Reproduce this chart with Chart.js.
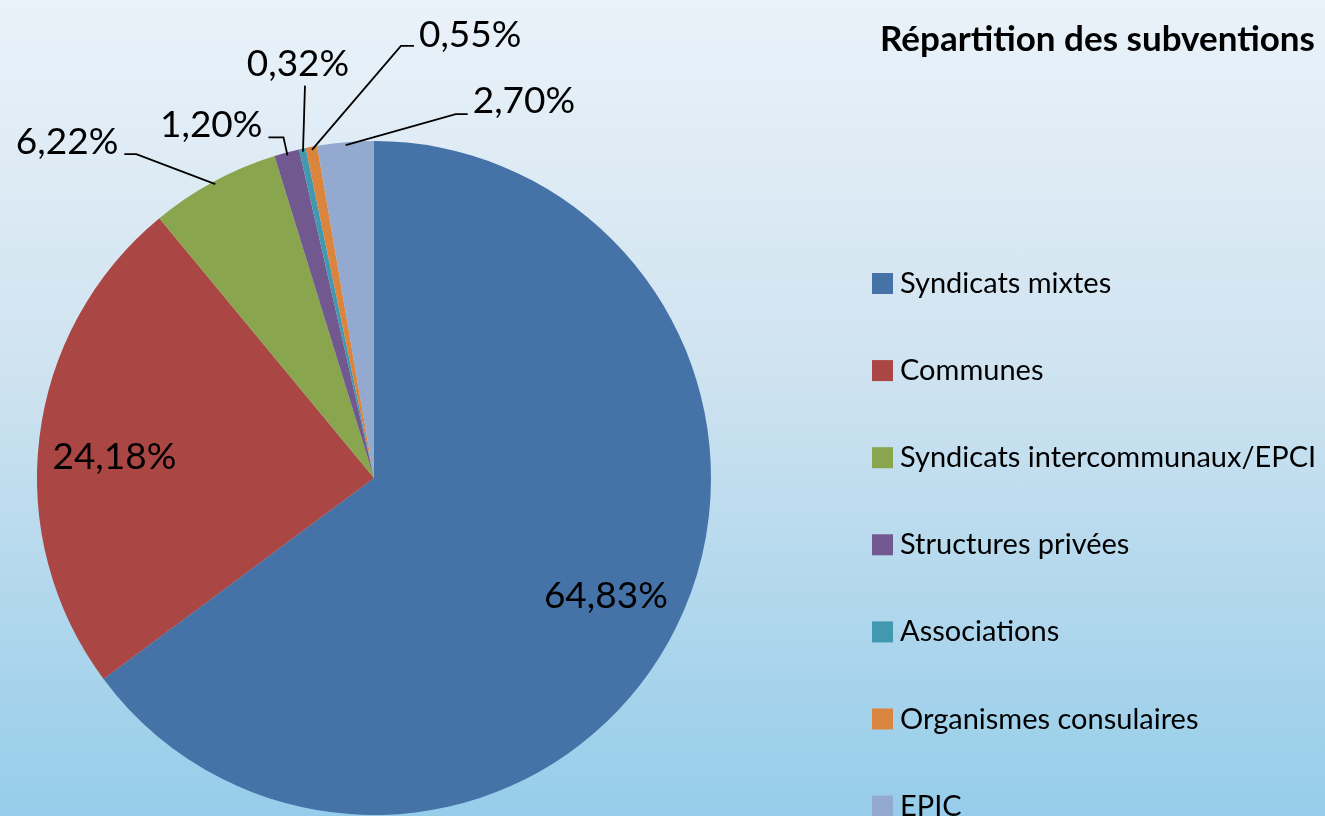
<!DOCTYPE html>
<html>
<head>
<meta charset="utf-8">
<script src="https://cdn.jsdelivr.net/npm/chart.js@4.4.0/dist/chart.umd.min.js"></script>
<style>
    html, body {
        margin: 0;
        padding: 0;
        width: 1325px;
        height: 816px;
        overflow: hidden;
        background: linear-gradient(to bottom, #eaf2f9 0%, #cfe3f0 45%, #96cdea 100%);
    }
    #grafico {
        display: block;
    }
</style>
</head>
<body>
<canvas id="grafico" width="1325" height="816"></canvas>
<script>
const titre = 'Répartition des subventions';
const categories = [
    'Syndicats mixtes',
    'Communes',
    'Syndicats intercommunaux/EPCI',
    'Structures privées',
    'Associations',
    'Organismes consulaires',
    'EPIC'
];
const parts = [64.83, 24.18, 6.22, 1.20, 0.32, 0.55, 2.70];
const couleurs = ['#4572a7', '#aa4643', '#89a54e', '#71588f', '#4198af', '#db843d', '#93a9cf'];

// placement des étiquettes (dans la part ou avec un trait de rappel)
const placements = [
    { type: 'dedans', r: 0.77, dx: 0, dy: 13 },
    { type: 'dedans', r: 0.77, dx: -2, dy: 22 },
    { type: 'trait', coude: [-79, -30], queue: -12, tx: -6, ty: 0, align: 'right' },
    { type: 'trait', coude: [-4, -18], queue: -15, tx: -6, ty: 0, align: 'right' },
    { type: 'trait', coude: [2, -66], queue: 0, tx: -7, ty: -10, align: 'center' },
    { type: 'trait', coude: [89, -104], queue: 13, tx: 5, ty: 1, align: 'left' },
    { type: 'trait', coude: [110, -31], queue: 12, tx: 5, ty: -1, align: 'left' }
];

function formatPct(v) {
    return v.toFixed(2).replace('.', ',') + '%';
}

const etiquettes = {
    id: 'etiquettes',
    afterDatasetsDraw(chart) {
        const ctx = chart.ctx;
        const arcs = chart.getDatasetMeta(0).data;
        ctx.save();
        ctx.font = '37px Lato';
        ctx.fillStyle = '#000';
        ctx.strokeStyle = '#000';
        ctx.lineWidth = 1.8;
        ctx.textBaseline = 'alphabetic';
        arcs.forEach(function (arc, i) {
            const p = arc.getProps(['x', 'y', 'startAngle', 'endAngle', 'outerRadius'], true);
            const a = (p.startAngle + p.endAngle) / 2;
            const pl = placements[i];
            const texte = formatPct(parts[i]);
            if (pl.type === 'dedans') {
                const r = p.outerRadius * pl.r;
                ctx.textAlign = 'center';
                ctx.fillText(texte, p.x + r * Math.cos(a) + pl.dx, p.y + r * Math.sin(a) + pl.dy);
            } else {
                const r = p.outerRadius - 3;
                const x0 = p.x + r * Math.cos(a);
                const y0 = p.y + r * Math.sin(a);
                const x1 = x0 + pl.coude[0];
                const y1 = y0 + pl.coude[1];
                const x2 = x1 + pl.queue;
                ctx.beginPath();
                ctx.moveTo(x0, y0);
                ctx.lineTo(x1, y1);
                ctx.lineTo(x2, y1);
                ctx.stroke();
                ctx.textAlign = pl.align;
                ctx.fillText(texte, x2 + pl.tx, y1 + pl.ty);
            }
        });
        ctx.restore();
    },
    afterDraw(chart) {
        const ctx = chart.ctx;
        ctx.save();
        ctx.fillStyle = '#000';
        ctx.textAlign = 'left';
        ctx.textBaseline = 'alphabetic';
        ctx.font = 'bold 35px Lato';
        ctx.fillText(titre, 880, 51);

        ctx.font = '29px Lato';
        categories.forEach(function (c, i) {
            const yc = 283 + i * 87.1;
            ctx.fillStyle = couleurs[i];
            ctx.fillRect(872, yc - 10, 21, 21);
            ctx.fillStyle = '#000';
            ctx.fillText(c, 900, yc + 10);
        });
        ctx.restore();
    }
};

const ctx = document.getElementById('grafico').getContext('2d');
new Chart(ctx, {
    type: 'pie',
    data: {
        labels: categories,
        datasets: [{
            data: parts,
            backgroundColor: couleurs,
            borderWidth: 0
        }]
    },
    options: {
        responsive: false,
        animation: false,
        layout: {
            padding: { left: 37, right: 614, top: 141, bottom: 1 }
        },
        plugins: {
            legend: { display: false },
            tooltip: { enabled: false }
        }
    },
    plugins: [etiquettes]
});
</script>
</body>
</html>
